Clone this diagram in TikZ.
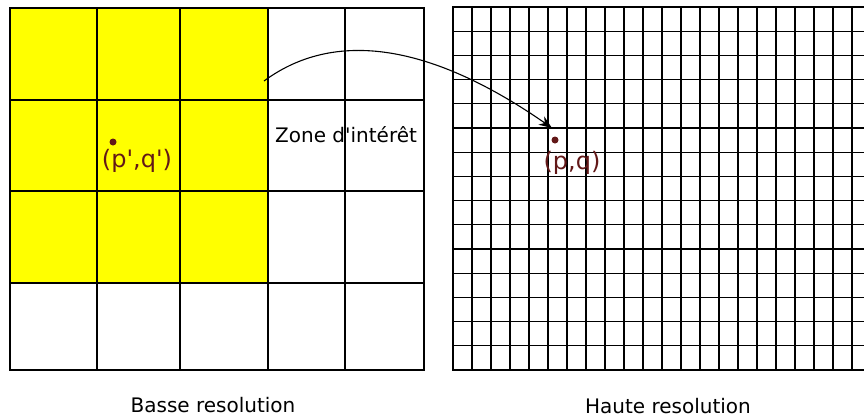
\documentclass[tikz,border=0pt]{standalone}
\usepackage{fontspec}
\setmainfont{DejaVu Sans}
\usepackage{xcolor}
\usetikzlibrary{arrows.meta, positioning}

\definecolor{pointred}{RGB}{98,24,24}
\definecolor{zoneyellow}{RGB}{255,255,0}

\begin{document}
\begin{tikzpicture}[
  x=1pt, y=-1pt,
  frame/.style={draw=black, line width=2.8pt},
  gridline/.style={draw=black, line width=1.1pt},
  pixel/.style={circle, fill=pointred, inner sep=0pt, minimum size=7pt},
  coordlabel/.style={text=pointred, font=\fontsize{24}{28}\selectfont, inner sep=0pt},
  caption/.style={font=\fontsize{20}{24}\selectfont, inner sep=0pt},
  arr/.style={-{Stealth[length=13pt, width=10pt]}, draw=black, line width=1.1pt}
]
\useasboundingbox (0,0) rectangle (864,418);

% === Low resolution grid ===
\fill[zoneyellow] (10,8) rectangle (268,283);
\foreach \x in {97,180,268,345}
  \draw[gridline] (\x,8) -- (\x,370);
\foreach \y in {100,191,283}
  \draw[gridline] (10,\y) -- (424,\y);
\draw[frame] (10,8) rectangle (424,370);

% === High resolution grid ===
\foreach \i in {1,...,22}
  \draw[gridline] ({453+19*\i},7) -- ({453+19*\i},370);
\foreach \j in {1,...,14}
  \draw[gridline] (453,{7+24.2*\j}) -- (880,{7+24.2*\j});
\draw[frame] (453,7) rectangle (872,370);

% === Points and labels ===
\node[pixel] (lowpix) at (113,142) {};
\node[coordlabel] (lowlabel) at (137,161) {(p\textquotesingle,q\textquotesingle)};
\node[pixel] (highpix) at (555,140) {};
\node[coordlabel] (highlabel) at (572,163) {(p,q)};

\node[caption, anchor=west] (zone) at (275,135) {Zone d\textquotesingle intérêt};

% === Captions ===
\node[caption] (lowcap) at (213,405) {Basse resolution};
\node[caption] (highcap) at (668,406) {Haute resolution};

% === Arrow ===
\coordinate (zonestart) at (264,81);
\draw[arr] (zonestart) .. controls (340,25) and (440,50) .. ([shift={(-3,-12)}]highpix.center);

\end{tikzpicture}
\end{document}
